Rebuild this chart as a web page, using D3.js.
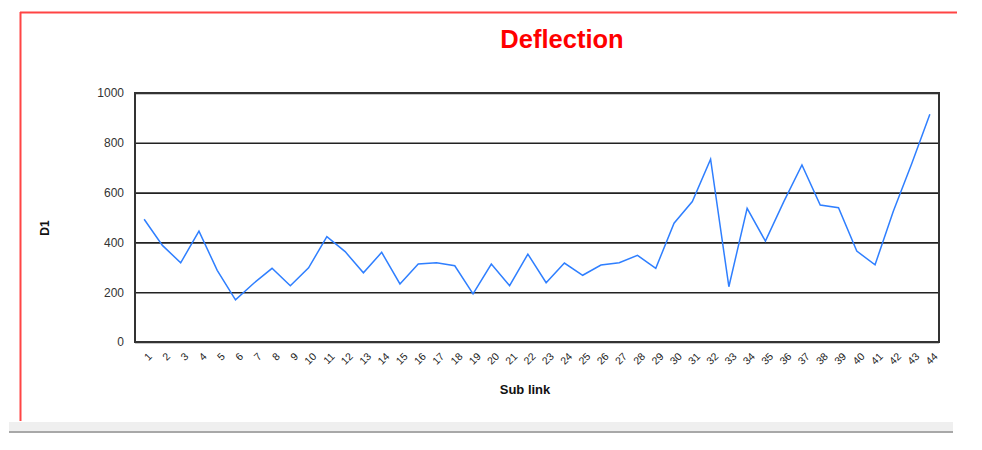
<!DOCTYPE html>
<html>
<head>
<meta charset="utf-8">
<script src="https://cdn.jsdelivr.net/npm/d3@7"></script>
<style>
  html, body { margin: 0; padding: 0; background: #fff; }
  svg { display: block; }
  text { font-family: "Liberation Sans", Arial, sans-serif; }
</style>
</head>
<body>
<svg id="chart" width="982" height="450"></svg>
<script>
const categories = d3.range(1, 45).map(String);
const deflection = [493, 388, 318, 445, 288, 169, 236, 296, 226, 298,
                    423, 363, 278, 360, 233, 313, 318, 306, 193, 313,
                    226, 353, 238, 317, 268, 309, 318, 348, 296, 477,
                    564, 734, 222, 537, 405, 563, 711, 550, 539, 365,
                    310, 525, 715, 915];
const yTicks = [0, 200, 400, 600, 800, 1000];
const titleText = "Deflection";
const xTitle = "Sub link";
const yTitle = "D1";

const svg = d3.select("#chart");

// outer frame pieces
svg.append("rect").attr("x", 9).attr("y", 422).attr("width", 944).attr("height", 10).attr("fill", "#efefef");
svg.append("line").attr("x1", 9).attr("x2", 953).attr("y1", 432).attr("y2", 432).attr("stroke", "#a8a8a8").attr("stroke-width", 2);
svg.append("line").attr("x1", 20).attr("x2", 957).attr("y1", 12.5).attr("y2", 12.5).attr("stroke", "#ff4444").attr("stroke-width", 2);
svg.append("line").attr("x1", 20.5).attr("x2", 20.5).attr("y1", 12).attr("y2", 421).attr("stroke", "#ff4444").attr("stroke-width", 2);

const plotL = 135, plotR = 939, plotT = 93, plotB = 342;

const x = d3.scalePoint().domain(categories).range([plotL, plotR]).padding(0.5);
const y = d3.scaleLinear().domain([0, 1000]).range([plotB, plotT]);

// gridlines
const yAxis = d3.axisLeft(y).tickValues(yTicks).tickSize(-(plotR - plotL)).tickFormat(d => d).tickPadding(11);
const gy = svg.append("g").attr("transform", `translate(${plotL},0)`).call(yAxis);
gy.select(".domain").remove();
gy.selectAll(".tick line").attr("stroke", "#222").attr("stroke-width", 1.6);
gy.selectAll(".tick text").attr("font-size", 12).attr("fill", "#333").attr("font-family", "'Liberation Sans', Arial, sans-serif");

// plot border
svg.append("rect").attr("x", plotL).attr("y", plotT).attr("width", plotR - plotL).attr("height", plotB - plotT)
  .attr("fill", "none").attr("stroke", "#333").attr("stroke-width", 2);

// x axis labels
const xAxis = d3.axisBottom(x).tickSize(0).tickPadding(0);
const gx = svg.append("g").attr("transform", `translate(0,${plotB})`).call(xAxis);
gx.select(".domain").remove();
gx.selectAll(".tick text")
  .attr("font-size", 10.5).attr("fill", "#222")
  .attr("font-family", "'Liberation Sans', Arial, sans-serif")
  .attr("text-anchor", "end")
  .attr("dy", 0).attr("y", 0)
  .attr("transform", "translate(8,15) rotate(-45)");

// line
const line = d3.line().x((d, i) => x(categories[i])).y(d => y(d));
svg.append("path").datum(deflection).attr("d", line)
  .attr("fill", "none").attr("stroke", "#2f7fff").attr("stroke-width", 1.5);

// titles
svg.append("text").attr("x", 562).attr("y", 48).attr("text-anchor", "middle")
  .attr("font-size", 25.5).attr("font-weight", "bold").attr("fill", "#ff0000").text(titleText);
svg.append("text").attr("x", 525).attr("y", 394).attr("text-anchor", "middle")
  .attr("font-size", 13).attr("font-weight", "bold").attr("fill", "#111").text(xTitle);
svg.append("text").attr("transform", "translate(49,228) rotate(-90)").attr("text-anchor", "middle")
  .attr("font-size", 12).attr("font-weight", "bold").attr("fill", "#111").text(yTitle);
</script>
</body>
</html>
